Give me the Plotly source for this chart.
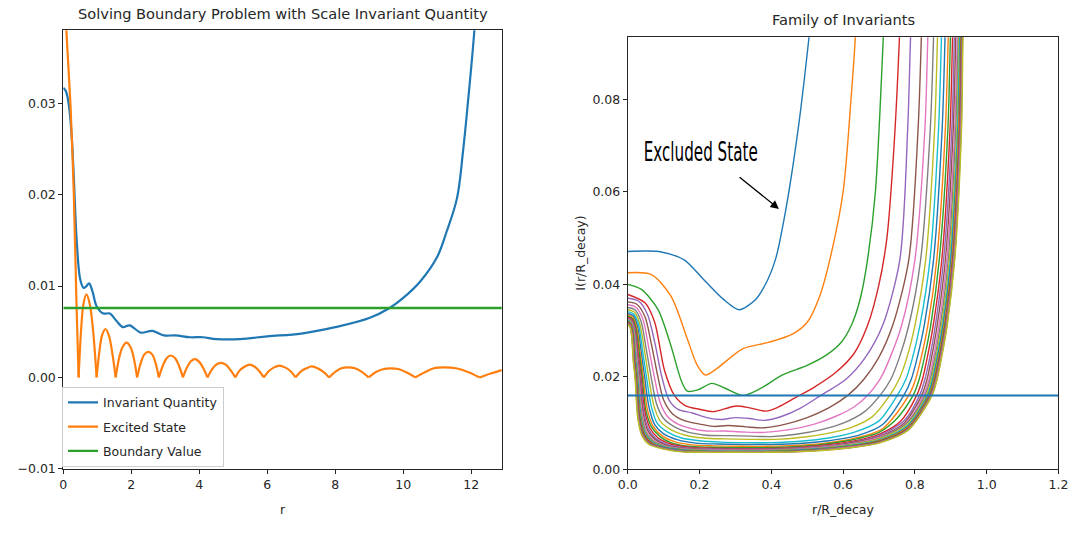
import plotly.graph_objects as go

# ---------------- left panel: boundary problem ----------------
inv_r = [0.0, 0.08, 0.17, 0.25, 0.31, 0.40, 0.50, 0.60, 0.68, 0.76, 0.86, 0.98, 1.18, 1.37,
         1.56, 1.75, 1.95, 2.28, 2.62, 2.96, 3.3, 3.73, 4.1, 4.5, 5.2, 6.0, 7.0, 8.0, 9.0,
         9.6, 10.0, 10.5, 11.0, 11.28, 11.58, 11.76, 11.9, 12.09, 12.2]
inv_v = [0.0317, 0.0313, 0.0296, 0.0262, 0.0218, 0.0146, 0.0107, 0.0098, 0.0100, 0.0103,
         0.0094, 0.0078, 0.0070, 0.0070, 0.0062, 0.0055, 0.0057, 0.0049, 0.0051, 0.0046,
         0.0046, 0.0044, 0.0044, 0.0042, 0.0042, 0.0045, 0.0048, 0.0055, 0.0065, 0.0076,
         0.0087, 0.0105, 0.0132, 0.0160, 0.0196, 0.0248, 0.0300, 0.0379, 0.0450]

# |psi| of the excited state, one arch per node-to-node interval (None separates arches)
excited_r = [0.0, 0.09, 0.21, 0.31, 0.38, 0.45, None,
             0.45, 0.52, 0.59, 0.68, 0.78, 0.88, 0.98, None,
             0.98, 1.06, 1.14, 1.24, 1.34, 1.44, 1.54, None,
             1.54, 1.64, 1.74, 1.86, 1.98, 2.08, 2.17, None,
             2.17, 2.28, 2.38, 2.50, 2.62, 2.72, 2.81, None,
             2.81, 2.93, 3.04, 3.16, 3.29, 3.41, 3.52, None,
             3.52, 3.64, 3.76, 3.88, 4.00, 4.12, 4.24, None,
             4.24, 4.38, 4.50, 4.63, 4.78, 4.92, 5.06, None,
             5.06, 5.20, 5.34, 5.48, 5.62, 5.76, 5.90, None,
             5.90, 6.05, 6.20, 6.36, 6.52, 6.68, 6.83, None,
             6.83, 7.00, 7.15, 7.31, 7.48, 7.65, 7.82, None,
             7.82, 8.00, 8.18, 8.38, 8.58, 8.78, 8.98, None,
             8.98, 9.20, 9.40, 9.63, 9.88, 10.12, 10.35, None,
             10.35, 10.65, 10.90, 11.20, 11.55, 11.90, 12.25, None,
             12.25, 12.55, 12.90]
excited_v = [0.047, 0.038, 0.0299, 0.0200, 0.0091, 0.0, None,
             0.0, 0.0050, 0.0080, 0.0091, 0.0080, 0.0050, 0.0, None,
             0.0, 0.0028, 0.0046, 0.0053, 0.0046, 0.0027, 0.0, None,
             0.0, 0.0021, 0.0033, 0.0038, 0.0033, 0.0020, 0.0, None,
             0.0, 0.0016, 0.0025, 0.0028, 0.0025, 0.0015, 0.0, None,
             0.0, 0.0013, 0.0021, 0.0024, 0.0021, 0.0012, 0.0, None,
             0.0, 0.0011, 0.0018, 0.0020, 0.0017, 0.0010, 0.0, None,
             0.0, 0.0009, 0.0014, 0.0016, 0.0014, 0.0008, 0.0, None,
             0.0, 0.0008, 0.0012, 0.0014, 0.0012, 0.0007, 0.0, None,
             0.0, 0.0007, 0.0011, 0.0013, 0.0011, 0.0007, 0.0, None,
             0.0, 0.0007, 0.0010, 0.0012, 0.0010, 0.0006, 0.0, None,
             0.0, 0.0006, 0.0010, 0.0011, 0.0010, 0.0006, 0.0, None,
             0.0, 0.0006, 0.0009, 0.0010, 0.0009, 0.0005, 0.0, None,
             0.0, 0.0006, 0.0010, 0.0011, 0.0010, 0.0006, 0.0, None,
             0.0, 0.0004, 0.0008]

boundary_r = [0.0, 12.9]
boundary_v = [0.0076, 0.0076]

left_xticks = [0, 2, 4, 6, 8, 10, 12]
left_yticks = [-0.01, 0.0, 0.01, 0.02, 0.03]
left_yticklabels = ["\u22120.01", "0.00", "0.01", "0.02", "0.03"]

# ---------------- right panel: family of invariants ----------------
right_xticks = [0.0, 0.2, 0.4, 0.6, 0.8, 1.0, 1.2]
right_xticklabels = ["0.0", "0.2", "0.4", "0.6", "0.8", "1.0", "1.2"]
right_yticks = [0.0, 0.02, 0.04, 0.06, 0.08]
right_yticklabels = ["0.00", "0.02", "0.04", "0.06", "0.08"]

threshold_r = [0.0, 1.2]
threshold_v = [0.016, 0.016]

fam01_r = [0, 0.05, 0.093, 0.157, 0.212, 0.266, 0.31, 0.357, 0.39, 0.412, 0.44, 0.475, 0.505, 0.52]
fam01_i = [0.0471, 0.0472, 0.0470, 0.0453, 0.0410, 0.0368, 0.0345, 0.0368, 0.0410, 0.0455, 0.0560, 0.0737, 0.0934, 0.105]

fam02_r = [0, 0.066, 0.12, 0.166, 0.193, 0.216, 0.248, 0.321, 0.394, 0.46, 0.50, 0.535, 0.565, 0.60, 0.622, 0.634, 0.64]
fam02_i = [0.0425, 0.0421, 0.0375, 0.0282, 0.0226, 0.0204, 0.0218, 0.0261, 0.0275, 0.0293, 0.0318, 0.0375, 0.0460, 0.0600, 0.0800, 0.0934, 0.105]

fam03_r = [0, 0.038, 0.084, 0.12, 0.15, 0.166, 0.195, 0.234, 0.27, 0.321, 0.37, 0.43, 0.50, 0.553, 0.595, 0.625, 0.648, 0.668, 0.690, 0.712, 0.718]
fam03_i = [0.0400, 0.0389, 0.0346, 0.0268, 0.0190, 0.0169, 0.0172, 0.0186, 0.0176, 0.0160, 0.0175, 0.0204, 0.0225, 0.0247, 0.0275, 0.0315, 0.0370, 0.0453, 0.0600, 0.0934, 0.105]

fam04_r = [0, 0.048, 0.075, 0.102, 0.13, 0.16, 0.20, 0.239, 0.27, 0.303, 0.34, 0.385, 0.42, 0.467, 0.52, 0.58, 0.63, 0.668, 0.700, 0.722, 0.742, 0.757, 0.762]
fam04_i = [0.0378, 0.0360, 0.0318, 0.0215, 0.0160, 0.0138, 0.0130, 0.0125, 0.0131, 0.0137, 0.0133, 0.0126, 0.0135, 0.0155, 0.0178, 0.0210, 0.0250, 0.0311, 0.0400, 0.0500, 0.0700, 0.0934, 0.105]

fam05_r = [0, 0.03, 0.055, 0.075, 0.095, 0.115, 0.14, 0.18, 0.22, 0.26, 0.30, 0.34, 0.38, 0.43, 0.48, 0.538, 0.608, 0.66, 0.71, 0.758, 0.780, 0.788, 0.794]
fam05_i = [0.0370, 0.0364, 0.0335, 0.0275, 0.0200, 0.0150, 0.0130, 0.0122, 0.0112, 0.0108, 0.0112, 0.0110, 0.0106, 0.0115, 0.0132, 0.0160, 0.0195, 0.0240, 0.0311, 0.0453, 0.0737, 0.0934, 0.105]

fam06_r = [0, 0.025, 0.048, 0.066, 0.084, 0.10, 0.125, 0.16, 0.20, 0.24, 0.28, 0.33, 0.38, 0.44, 0.50, 0.56, 0.613, 0.658, 0.698, 0.738, 0.783, 0.809, 0.818, 0.822]
fam06_i = [0.0362, 0.0357, 0.0330, 0.0270, 0.0200, 0.0150, 0.0120, 0.0105, 0.0098, 0.0093, 0.0095, 0.0092, 0.0090, 0.0098, 0.0112, 0.0133, 0.0160, 0.0195, 0.0240, 0.0311, 0.0453, 0.0737, 0.0934, 0.105]

fam07_r = [0, 0.022, 0.042, 0.058, 0.074, 0.09, 0.11, 0.14, 0.18, 0.22, 0.27, 0.32, 0.38, 0.45, 0.52, 0.58, 0.63, 0.668, 0.703, 0.730, 0.763, 0.800, 0.828, 0.836, 0.840]
fam07_i = [0.0356, 0.0351, 0.0325, 0.0265, 0.0200, 0.0145, 0.0115, 0.0098, 0.0088, 0.0083, 0.0083, 0.0081, 0.0080, 0.0086, 0.0098, 0.0115, 0.0135, 0.0160, 0.0195, 0.0240, 0.0311, 0.0453, 0.0737, 0.0934, 0.105]

fam08_r = [0, 0.02, 0.037, 0.051, 0.065, 0.08, 0.10, 0.13, 0.17, 0.22, 0.28, 0.34, 0.40, 0.47, 0.54, 0.60, 0.66, 0.703, 0.733, 0.756, 0.783, 0.816, 0.843, 0.852, 0.856]
fam08_i = [0.0350, 0.0345, 0.0320, 0.0262, 0.0200, 0.0142, 0.0110, 0.0092, 0.0080, 0.0074, 0.0073, 0.0072, 0.0071, 0.0076, 0.0086, 0.0100, 0.0125, 0.0160, 0.0195, 0.0240, 0.0311, 0.0453, 0.0737, 0.0934, 0.105]

fam09_r = [0, 0.018, 0.033, 0.046, 0.058, 0.072, 0.09, 0.12, 0.16, 0.21, 0.27, 0.34, 0.41, 0.48, 0.55, 0.62, 0.68, 0.730, 0.756, 0.777, 0.800, 0.830, 0.855, 0.863, 0.867]
fam09_i = [0.0345, 0.0340, 0.0316, 0.0260, 0.0200, 0.0140, 0.0105, 0.0086, 0.0074, 0.0068, 0.0066, 0.0065, 0.0065, 0.0069, 0.0077, 0.0090, 0.0113, 0.0160, 0.0195, 0.0240, 0.0311, 0.0453, 0.0737, 0.0934, 0.105]

fam10_r = [0, 0.016, 0.030, 0.041, 0.052, 0.065, 0.082, 0.11, 0.15, 0.20, 0.26, 0.33, 0.40, 0.48, 0.56, 0.63, 0.70, 0.751, 0.775, 0.793, 0.814, 0.842, 0.866, 0.874, 0.878]
fam10_i = [0.0341, 0.0336, 0.0313, 0.0258, 0.0200, 0.0138, 0.0100, 0.0081, 0.0068, 0.0062, 0.0059, 0.0058, 0.0058, 0.0061, 0.0068, 0.0080, 0.0105, 0.0160, 0.0195, 0.0240, 0.0311, 0.0453, 0.0737, 0.0934, 0.105]

fam11_r = [0, 0.015, 0.027, 0.037, 0.047, 0.059, 0.075, 0.10, 0.14, 0.19, 0.25, 0.32, 0.40, 0.48, 0.56, 0.64, 0.71, 0.769, 0.790, 0.806, 0.826, 0.852, 0.876, 0.884, 0.888]
fam11_i = [0.0337, 0.0332, 0.0310, 0.0256, 0.0200, 0.0135, 0.0097, 0.0077, 0.0064, 0.0057, 0.0055, 0.0054, 0.0054, 0.0056, 0.0062, 0.0073, 0.0097, 0.0160, 0.0195, 0.0240, 0.0311, 0.0453, 0.0737, 0.0934, 0.105]

fam12_r = [0, 0.014, 0.025, 0.034, 0.043, 0.054, 0.07, 0.095, 0.13, 0.18, 0.24, 0.31, 0.39, 0.47, 0.55, 0.63, 0.71, 0.783, 0.802, 0.817, 0.836, 0.861, 0.885, 0.893, 0.897]
fam12_i = [0.0334, 0.0329, 0.0307, 0.0254, 0.0200, 0.0132, 0.0094, 0.0073, 0.0060, 0.0053, 0.0051, 0.0050, 0.0050, 0.0052, 0.0057, 0.0067, 0.0088, 0.0160, 0.0195, 0.0240, 0.0311, 0.0453, 0.0737, 0.0934, 0.105]

fam13_r = [0, 0.013, 0.023, 0.032, 0.040, 0.050, 0.066, 0.09, 0.12, 0.17, 0.23, 0.30, 0.38, 0.46, 0.54, 0.62, 0.70, 0.75, 0.795, 0.812, 0.826, 0.844, 0.868, 0.892, 0.899, 0.903]
fam13_i = [0.0331, 0.0326, 0.0305, 0.0252, 0.0200, 0.0130, 0.0092, 0.0071, 0.0058, 0.0050, 0.0048, 0.0047, 0.0047, 0.0049, 0.0054, 0.0063, 0.0080, 0.0110, 0.0160, 0.0195, 0.0240, 0.0311, 0.0453, 0.0737, 0.0934, 0.105]

fam14_r = [0, 0.012, 0.021, 0.029, 0.037, 0.047, 0.062, 0.085, 0.12, 0.17, 0.23, 0.30, 0.38, 0.46, 0.54, 0.62, 0.70, 0.76, 0.805, 0.821, 0.834, 0.851, 0.875, 0.898, 0.905, 0.909]
fam14_i = [0.0329, 0.0324, 0.0303, 0.0250, 0.0200, 0.0128, 0.0089, 0.0068, 0.0055, 0.0048, 0.0046, 0.0045, 0.0045, 0.0047, 0.0052, 0.0060, 0.0076, 0.0104, 0.0160, 0.0195, 0.0240, 0.0311, 0.0453, 0.0737, 0.0934, 0.105]

fam15_r = [0, 0.011, 0.020, 0.027, 0.035, 0.044, 0.058, 0.08, 0.11, 0.16, 0.22, 0.30, 0.38, 0.46, 0.54, 0.62, 0.70, 0.77, 0.813, 0.828, 0.841, 0.857, 0.880, 0.903, 0.910, 0.914]
fam15_i = [0.0327, 0.0322, 0.0301, 0.0249, 0.0200, 0.0126, 0.0087, 0.0066, 0.0054, 0.0047, 0.0045, 0.0044, 0.0044, 0.0046, 0.0050, 0.0058, 0.0073, 0.0105, 0.0160, 0.0195, 0.0240, 0.0311, 0.0453, 0.0737, 0.0934, 0.105]

fam16_r = [0, 0.010, 0.019, 0.026, 0.033, 0.042, 0.055, 0.076, 0.105, 0.15, 0.21, 0.29, 0.38, 0.46, 0.54, 0.62, 0.70, 0.77, 0.819, 0.834, 0.846, 0.862, 0.885, 0.907, 0.914, 0.918]
fam16_i = [0.0326, 0.0321, 0.0300, 0.0248, 0.0200, 0.0124, 0.0085, 0.0065, 0.0053, 0.0046, 0.0044, 0.0043, 0.0043, 0.0045, 0.0049, 0.0057, 0.0071, 0.0100, 0.0160, 0.0195, 0.0240, 0.0311, 0.0453, 0.0737, 0.0934, 0.105]

fam17_r = [0, 0.010, 0.018, 0.025, 0.031, 0.040, 0.052, 0.072, 0.10, 0.15, 0.21, 0.29, 0.38, 0.46, 0.54, 0.62, 0.70, 0.775, 0.824, 0.839, 0.851, 0.867, 0.889, 0.911, 0.918, 0.922]
fam17_i = [0.0325, 0.0320, 0.0299, 0.0247, 0.0200, 0.0122, 0.0083, 0.0063, 0.0052, 0.0045, 0.0043, 0.0042, 0.0042, 0.0044, 0.0048, 0.0055, 0.0069, 0.0100, 0.0160, 0.0195, 0.0240, 0.0311, 0.0453, 0.0737, 0.0934, 0.105]

fam18_r = [0, 0.009, 0.017, 0.023, 0.029, 0.038, 0.050, 0.07, 0.10, 0.15, 0.21, 0.29, 0.38, 0.46, 0.54, 0.62, 0.70, 0.78, 0.828, 0.843, 0.855, 0.871, 0.893, 0.914, 0.921, 0.925]
fam18_i = [0.0324, 0.0319, 0.0298, 0.0246, 0.0200, 0.0120, 0.0081, 0.0062, 0.0051, 0.0044, 0.0042, 0.0041, 0.0041, 0.0043, 0.0047, 0.0054, 0.0067, 0.0102, 0.0160, 0.0195, 0.0240, 0.0311, 0.0453, 0.0737, 0.0934, 0.105]

fam19_r = [0, 0.009, 0.016, 0.022, 0.028, 0.037, 0.049, 0.068, 0.10, 0.15, 0.21, 0.29, 0.38, 0.46, 0.54, 0.62, 0.70, 0.78, 0.832, 0.846, 0.858, 0.874, 0.896, 0.917, 0.923, 0.927]
fam19_i = [0.0323, 0.0318, 0.0297, 0.0245, 0.0200, 0.0118, 0.0080, 0.0061, 0.0050, 0.0043, 0.0041, 0.0040, 0.0040, 0.0042, 0.0046, 0.0053, 0.0066, 0.0098, 0.0160, 0.0195, 0.0240, 0.0311, 0.0453, 0.0737, 0.0934, 0.105]

fam20_r = [0, 0.008, 0.015, 0.021, 0.027, 0.036, 0.048, 0.067, 0.10, 0.15, 0.21, 0.29, 0.38, 0.46, 0.54, 0.62, 0.70, 0.78, 0.835, 0.849, 0.861, 0.877, 0.899, 0.919, 0.925, 0.929]
fam20_i = [0.0322, 0.0317, 0.0296, 0.0244, 0.0200, 0.0117, 0.0079, 0.0060, 0.0049, 0.0042, 0.0040, 0.0040, 0.0040, 0.0041, 0.0045, 0.0052, 0.0064, 0.0095, 0.0160, 0.0195, 0.0240, 0.0311, 0.0453, 0.0737, 0.0934, 0.105]

fam21_r = [0, 0.008, 0.015, 0.020, 0.026, 0.035, 0.047, 0.066, 0.10, 0.15, 0.21, 0.29, 0.38, 0.46, 0.54, 0.62, 0.70, 0.78, 0.837, 0.851, 0.863, 0.879, 0.901, 0.921, 0.927, 0.931]
fam21_i = [0.0321, 0.0316, 0.0295, 0.0243, 0.0200, 0.0116, 0.0078, 0.0059, 0.0048, 0.0042, 0.0040, 0.0039, 0.0039, 0.0041, 0.0045, 0.0051, 0.0063, 0.0093, 0.0160, 0.0195, 0.0240, 0.0311, 0.0453, 0.0737, 0.0934, 0.105]

fam22_r = [0, 0.008, 0.014, 0.019, 0.025, 0.034, 0.046, 0.065, 0.10, 0.15, 0.21, 0.29, 0.38, 0.46, 0.54, 0.62, 0.70, 0.78, 0.839, 0.853, 0.865, 0.881, 0.903, 0.922, 0.928, 0.932]
fam22_i = [0.0320, 0.0315, 0.0294, 0.0242, 0.0200, 0.0115, 0.0077, 0.0058, 0.0047, 0.0041, 0.0039, 0.0039, 0.0039, 0.0040, 0.0044, 0.0050, 0.0062, 0.0091, 0.0160, 0.0195, 0.0240, 0.0311, 0.0453, 0.0737, 0.0934, 0.105]

fam23_r = [0, 0.007, 0.013, 0.018, 0.024, 0.033, 0.045, 0.064, 0.10, 0.15, 0.21, 0.29, 0.38, 0.46, 0.54, 0.62, 0.70, 0.78, 0.841, 0.855, 0.867, 0.883, 0.905, 0.924, 0.929, 0.933]
fam23_i = [0.0319, 0.0314, 0.0293, 0.0241, 0.0200, 0.0114, 0.0076, 0.0057, 0.0047, 0.0041, 0.0039, 0.0038, 0.0038, 0.0040, 0.0044, 0.0050, 0.0061, 0.0089, 0.0160, 0.0195, 0.0240, 0.0311, 0.0453, 0.0737, 0.0934, 0.105]

fam24_r = [0, 0.007, 0.013, 0.018, 0.023, 0.032, 0.044, 0.063, 0.10, 0.15, 0.21, 0.29, 0.38, 0.46, 0.54, 0.62, 0.70, 0.78, 0.843, 0.857, 0.869, 0.885, 0.906, 0.925, 0.930, 0.934]
fam24_i = [0.0318, 0.0313, 0.0292, 0.0240, 0.0200, 0.0113, 0.0075, 0.0057, 0.0046, 0.0040, 0.0038, 0.0038, 0.0038, 0.0039, 0.0043, 0.0049, 0.0060, 0.0088, 0.0160, 0.0195, 0.0240, 0.0311, 0.0453, 0.0737, 0.0934, 0.105]

fam25_r = [0, 0.007, 0.012, 0.017, 0.022, 0.031, 0.043, 0.062, 0.10, 0.15, 0.21, 0.29, 0.38, 0.46, 0.54, 0.62, 0.70, 0.78, 0.844, 0.858, 0.870, 0.886, 0.907, 0.926, 0.931, 0.935]
fam25_i = [0.0317, 0.0312, 0.0291, 0.0239, 0.0200, 0.0112, 0.0074, 0.0056, 0.0046, 0.0040, 0.0038, 0.0038, 0.0038, 0.0039, 0.0043, 0.0049, 0.0059, 0.0087, 0.0160, 0.0195, 0.0240, 0.0311, 0.0453, 0.0737, 0.0934, 0.105]

fam26_r = [0, 0.007, 0.012, 0.017, 0.022, 0.030, 0.042, 0.061, 0.10, 0.15, 0.21, 0.29, 0.38, 0.46, 0.54, 0.62, 0.70, 0.78, 0.845, 0.859, 0.871, 0.887, 0.908, 0.927, 0.932, 0.936]
fam26_i = [0.0316, 0.0311, 0.0290, 0.0238, 0.0200, 0.0112, 0.0074, 0.0056, 0.0045, 0.0039, 0.0037, 0.0037, 0.0037, 0.0039, 0.0042, 0.0048, 0.0059, 0.0086, 0.0160, 0.0195, 0.0240, 0.0311, 0.0453, 0.0737, 0.0934, 0.105]

fam27_r = [0, 0.006, 0.012, 0.016, 0.021, 0.029, 0.041, 0.060, 0.10, 0.15, 0.21, 0.29, 0.38, 0.46, 0.54, 0.62, 0.70, 0.78, 0.846, 0.860, 0.872, 0.888, 0.909, 0.928, 0.933, 0.937]
fam27_i = [0.0315, 0.0310, 0.0289, 0.0237, 0.0200, 0.0111, 0.0073, 0.0055, 0.0045, 0.0039, 0.0037, 0.0037, 0.0037, 0.0038, 0.0042, 0.0048, 0.0058, 0.0085, 0.0160, 0.0195, 0.0240, 0.0311, 0.0453, 0.0737, 0.0934, 0.105]

fam28_r = [0, 0.006, 0.011, 0.016, 0.021, 0.029, 0.041, 0.060, 0.10, 0.15, 0.21, 0.29, 0.38, 0.46, 0.54, 0.62, 0.70, 0.78, 0.847, 0.861, 0.873, 0.889, 0.910, 0.929, 0.933, 0.937]
fam28_i = [0.0314, 0.0309, 0.0288, 0.0236, 0.0200, 0.0111, 0.0073, 0.0055, 0.0045, 0.0039, 0.0037, 0.0037, 0.0037, 0.0038, 0.0042, 0.0047, 0.0058, 0.0085, 0.0160, 0.0195, 0.0240, 0.0311, 0.0453, 0.0737, 0.0934, 0.105]

fam29_r = [0, 0.006, 0.011, 0.015, 0.020, 0.028, 0.040, 0.059, 0.10, 0.15, 0.21, 0.29, 0.38, 0.46, 0.54, 0.62, 0.70, 0.78, 0.848, 0.862, 0.874, 0.890, 0.911, 0.930, 0.934, 0.938]
fam29_i = [0.0313, 0.0308, 0.0287, 0.0235, 0.0200, 0.0110, 0.0072, 0.0054, 0.0044, 0.0038, 0.0037, 0.0037, 0.0037, 0.0038, 0.0041, 0.0047, 0.0057, 0.0084, 0.0160, 0.0195, 0.0240, 0.0311, 0.0453, 0.0737, 0.0934, 0.105]

family = [
    (fam01_r, fam01_i), (fam02_r, fam02_i), (fam03_r, fam03_i), (fam04_r, fam04_i),
    (fam05_r, fam05_i), (fam06_r, fam06_i), (fam07_r, fam07_i), (fam08_r, fam08_i),
    (fam09_r, fam09_i), (fam10_r, fam10_i), (fam11_r, fam11_i), (fam12_r, fam12_i),
    (fam13_r, fam13_i), (fam14_r, fam14_i), (fam15_r, fam15_i), (fam16_r, fam16_i),
    (fam17_r, fam17_i), (fam18_r, fam18_i), (fam19_r, fam19_i), (fam20_r, fam20_i),
    (fam21_r, fam21_i), (fam22_r, fam22_i), (fam23_r, fam23_i), (fam24_r, fam24_i),
    (fam25_r, fam25_i), (fam26_r, fam26_i), (fam27_r, fam27_i), (fam28_r, fam28_i),
    (fam29_r, fam29_i),
]

tab10 = ["#1f77b4", "#ff7f0e", "#2ca02c", "#d62728", "#9467bd",
         "#8c564b", "#e377c2", "#7f7f7f", "#bcbd22", "#17becf"]

FONT = "DejaVu Sans, Verdana, sans-serif"
INK = "#262626"

fig = go.Figure()

# left panel traces
fig.add_trace(go.Scatter(x=inv_r, y=inv_v, mode="lines", name="Invariant Quantity",
                         legendgroup="a", line=dict(color=tab10[0], width=2.2, shape="spline"),
                         xaxis="x", yaxis="y"))
fig.add_trace(go.Scatter(x=excited_r, y=excited_v, mode="lines", name="Excited State",
                         legendgroup="b", connectgaps=False,
                         line=dict(color=tab10[1], width=2.2, shape="spline", smoothing=0.9),
                         xaxis="x", yaxis="y"))
fig.add_trace(go.Scatter(x=boundary_r, y=boundary_v, mode="lines", name="Boundary Value",
                         legendgroup="c", line=dict(color=tab10[2], width=2.4),
                         xaxis="x", yaxis="y"))

# right panel traces
for k, (rr, ii) in enumerate(family):
    fig.add_trace(go.Scatter(x=rr, y=ii, mode="lines", showlegend=False,
                             line=dict(color=tab10[k % 10], width=1.4, shape="spline", smoothing=0.8),
                             xaxis="x2", yaxis="y2"))
fig.add_trace(go.Scatter(x=threshold_r, y=threshold_v, mode="lines", showlegend=False,
                         line=dict(color=tab10[0], width=2), xaxis="x2", yaxis="y2"))

W, H = 1092, 533


def px_x(p):
    return p / W


def px_y(p):
    return (H - p) / H


axis_common = dict(showgrid=False, zeroline=False, showline=True, mirror=True,
                   linecolor=INK, linewidth=1, ticks="outside", ticklen=4, tickwidth=1,
                   tickcolor=INK, tickfont=dict(family=FONT, size=12.5, color=INK))

fig.update_layout(
    width=W, height=H, autosize=False,
    margin=dict(l=0, r=0, t=0, b=0),
    paper_bgcolor="white", plot_bgcolor="white",
    font=dict(family=FONT, color=INK),
    xaxis=dict(domain=[px_x(54.3), px_x(501)], range=[0, 12.9], tickvals=left_xticks,
               anchor="y", **axis_common),
    yaxis=dict(domain=[px_y(475), px_y(30.7)], range=[-0.01, 0.038], tickvals=left_yticks,
               ticktext=left_yticklabels, anchor="x", **axis_common),
    xaxis2=dict(domain=[px_x(629.3), px_x(1068)], range=[0, 1.2], tickvals=right_xticks,
                ticktext=right_xticklabels, anchor="y2", **axis_common),
    yaxis2=dict(domain=[px_y(475.7), px_y(37.7)], range=[0, 0.0934], tickvals=right_yticks,
                ticktext=right_yticklabels, anchor="x2", **axis_common),
    legend=dict(x=px_x(53), y=px_y(473), xanchor="left", yanchor="bottom",
                bgcolor="rgba(255,255,255,0.85)", bordercolor="#cccccc", borderwidth=1,
                font=dict(family=FONT, size=12.5, color=INK), tracegroupgap=5,
                itemwidth=30),
    showlegend=True,
)

annotations = [
    dict(text="Solving Boundary Problem with Scale Invariant Quantity", x=px_x(277.6), y=px_y(14),
         xref="paper", yref="paper", showarrow=False, xanchor="center", yanchor="middle",
         font=dict(family=FONT, size=14.6, color=INK)),
    dict(text="Family of Invariants", x=px_x(848.6), y=px_y(20),
         xref="paper", yref="paper", showarrow=False, xanchor="center", yanchor="middle",
         font=dict(family=FONT, size=14.6, color=INK)),
    dict(text="r", x=px_x(277.6), y=px_y(516), xref="paper", yref="paper", showarrow=False,
         xanchor="center", yanchor="middle", font=dict(family=FONT, size=12.5, color=INK)),
    dict(text="r/R_decay", x=px_x(848.6), y=px_y(516), xref="paper", yref="paper",
         showarrow=False, xanchor="center", yanchor="middle",
         font=dict(family=FONT, size=12.5, color=INK)),
    dict(text="I(r/R_decay)", x=px_x(581), y=px_y(256.7), xref="paper", yref="paper",
         showarrow=False, textangle=-90, xanchor="center", yanchor="middle",
         font=dict(family=FONT, size=12.5, color=INK)),
    dict(text="Excluded State", x=0.2016, y=0.0687, xref="x2", yref="y2", showarrow=False,
         xanchor="center", yanchor="middle",
         font=dict(family="DejaVu Sans, sans-serif", size=26, color="black")),
    dict(text="", x=0.4212, y=0.0563, ax=0.3074, ay=0.0634, xref="x2", yref="y2",
         axref="x2", ayref="y2", showarrow=True, arrowhead=2, arrowsize=1.3,
         arrowwidth=1.3, arrowcolor="black", standoff=0, startstandoff=0),
]
fig.update_layout(annotations=annotations)

# the callout is set in a narrow face: squeeze its glyphs to a fixed advance
squeeze_js = """
function squeezeCallout() {
  document.querySelectorAll('.annotation-text').forEach(function (t) {
    if (t.textContent === 'Excluded State') {
      t.setAttribute('textLength', '114');
      t.setAttribute('lengthAdjust', 'spacingAndGlyphs');
    }
  });
}
squeezeCallout();
var gd = document.getElementById('{plot_id}');
if (gd && gd.on) { gd.on('plotly_afterplot', squeezeCallout); }
"""

fig.write_html("out.html", post_script=squeeze_js)
